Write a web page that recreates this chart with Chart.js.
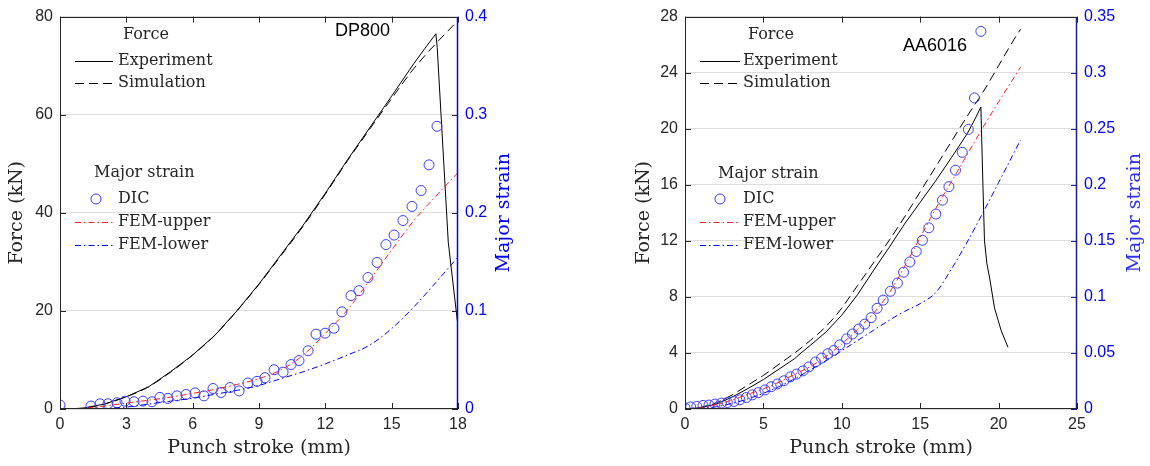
<!DOCTYPE html>
<html><head><meta charset="utf-8">
<script src="https://cdn.jsdelivr.net/npm/chart.js@4.4.0/dist/chart.umd.min.js"></script>
<style>
html,body{margin:0;padding:0;background:#fff;}
#wrap{position:relative;width:1150px;height:466px;overflow:hidden;}
#c1{position:absolute;left:0;top:0;}
#c2{position:absolute;left:620px;top:0;}
</style></head><body>
<div id="wrap">
<canvas id="c1" width="520" height="466"></canvas>
<canvas id="c2" width="530" height="466"></canvas>
</div>
<script>
// ---------------- DP800 (left) ----------------
const dpExpStroke = [0,1,2,3,4,5,6,7,8,9,10,11,12,13,14,15,16,16.5,17,17.06,17.56,17.97];
const dpExpForce  = [0,0.15,1.0,2.5,4.5,7.6,11,15,20,25.5,31.5,37.5,44,50.8,57.3,63.8,70.4,73.5,76.5,73.7,34,18];
const dpSimStroke = [0,1,2,3,4,5,6,7,8,9,10,11,12,13,14,15,16,17,18];
const dpSimForce  = [0,0.15,1.0,2.5,4.5,7.5,11,15,20,25.4,31.3,37.3,43.8,50.6,57,63.3,69.4,74.5,79.2];
const dpDicStroke = [0,1.40,1.81,2.17,2.58,2.94,3.35,3.75,4.16,4.52,4.88,5.29,5.70,6.11,6.51,6.92,7.28,7.69,8.10,8.50,8.91,9.27,9.68,10.09,10.45,10.81,11.22,11.58,11.99,12.39,12.75,13.16,13.52,13.93,14.34,14.74,15.11,15.51,15.92,16.33,16.69,17.05];
const dpDicStrain = [0.004,0.003,0.0053,0.0053,0.0063,0.008,0.0074,0.008,0.0074,0.0118,0.0108,0.0134,0.0148,0.0164,0.0134,0.0209,0.0168,0.0219,0.0184,0.0265,0.0282,0.0319,0.040,0.0376,0.0453,0.0494,0.0594,0.0763,0.0773,0.0823,0.099,0.1156,0.1206,0.134,0.1494,0.1676,0.1773,0.1921,0.2065,0.2227,0.2489,0.2882];
const dpFemStroke = [0,1,2,3,4,5,6,7,8,9,10,11,12,13,14,15,16,17,18];
const dpFemUpper  = [0,0.0005,0.003,0.006,0.009,0.012,0.016,0.02,0.025,0.031,0.04,0.055,0.077,0.101,0.131,0.162,0.192,0.217,0.241];
const dpFemLower  = [0,0,0.0005,0.002,0.005,0.008,0.011,0.015,0.019,0.024,0.031,0.038,0.046,0.055,0.065,0.082,0.104,0.129,0.155];
const dpXTicks  = [0,3,6,9,12,15,18];
const dpYTicks  = [0,20,40,60,80];
const dpY1Ticks = [0,0.1,0.2,0.3,0.4];

// ---------------- AA6016 (right) ----------------
const aaExpStroke = [0,1,2,3,4,5,6,7,7.4,8,9,10,11,12,13,14,15,16,17,18,18.5,18.87,19.0,19.1,19.25,19.43,19.74,20.17,20.6];
const aaExpForce  = [0,0.1,0.35,0.85,1.45,2.1,2.85,3.6,4.0,4.55,5.5,6.7,8.15,9.85,11.5,13.2,14.75,16.3,17.95,19.65,20.7,21.55,16.0,12.0,10.4,9.34,7.2,5.58,4.4];
const aaSimStroke = [0,1,2,3,4,5,6,7,8,9,10,10.5,11,12,13,14,15,16,17,18,19,20,21,21.4];
const aaSimForce  = [0,0.12,0.45,1.0,1.7,2.4,3.2,4.0,4.9,5.9,7.2,8.0,8.8,10.4,12.0,13.7,15.5,17.3,19.1,20.9,22.6,24.5,26.4,27.1];
const aaDicStroke = [0,0.36,0.75,1.15,1.53,1.91,2.32,2.7,3.12,3.5,3.91,4.29,4.67,5.1,5.5,5.89,6.31,6.73,7.11,7.52,7.9,8.32,8.71,9.11,9.49,9.87,10.3,10.68,11.08,11.46,11.87,12.25,12.64,13.1,13.55,13.94,14.34,14.75,15.14,15.55,16.0,16.42,16.83,17.25,17.68,18.07,18.46,18.87];
const aaDicStrain = [0.001,0.0018,0.0023,0.0032,0.0035,0.0044,0.0053,0.0058,0.0067,0.0082,0.0102,0.0126,0.0146,0.017,0.0199,0.0223,0.0252,0.0287,0.0311,0.034,0.0375,0.0419,0.0454,0.0493,0.0522,0.0572,0.0625,0.0669,0.0713,0.0757,0.0815,0.0898,0.0971,0.105,0.1123,0.122,0.1311,0.1405,0.1505,0.1616,0.1739,0.1863,0.1983,0.213,0.2289,0.2494,0.2775,0.3368];
const aaFemStroke = [0,1,2,3,4,5,6,7,8,9,10,11,12,13,14,15,16,17,18,19,20,21,21.4];
const aaFemUpper  = [0,0.001,0.004,0.008,0.013,0.018,0.024,0.031,0.038,0.047,0.058,0.071,0.085,0.103,0.127,0.153,0.179,0.203,0.227,0.251,0.274,0.296,0.305];
const aaFemLower  = [0,0.0005,0.002,0.005,0.009,0.014,0.02,0.027,0.035,0.043,0.052,0.061,0.07,0.079,0.087,0.094,0.104,0.125,0.149,0.175,0.202,0.229,0.24];
const aaXTicks  = [0,5,10,15,20,25];
const aaYTicks  = [0,4,8,12,16,20,24,28];
const aaY1Ticks = [0,0.05,0.1,0.15,0.2,0.25,0.3,0.35];

// ---------------- helpers ----------------
const zip = (xs, ys) => xs.map((x, i) => ({x, y: ys[i]}));
const SERIF = '"DejaVu Serif", serif';
const SANS = '"Liberation Sans", Arial, sans-serif';
const RED = 'rgb(255,30,30)';
const BLUE = '#0000ff';
const DICBLUE = 'rgb(60,60,255)';
const DASH = [9,5];
const DASHDOT = [6,3,1.5,3];
const fmt = v => String(+Number(v).toFixed(3));

const chromePlugin = {
  id: 'chrome',
  afterDraw(chart, args, o) {
    const {ctx, chartArea: a, scales} = chart;
    ctx.save();
    ctx.lineWidth = 1;
    const L = 6;
    const seg = (x1, y1, x2, y2) => { ctx.beginPath(); ctx.moveTo(x1, y1); ctx.lineTo(x2, y2); ctx.stroke(); };
    ctx.strokeStyle = '#262626';
    scales.x.ticks.forEach(t => {
      const p = Math.round(scales.x.getPixelForValue(t.value)) + 0.5;
      seg(p, a.bottom, p, a.bottom - L);
      seg(p, a.top, p, a.top + L);
    });
    scales.y.ticks.forEach(t => {
      const p = Math.round(scales.y.getPixelForValue(t.value)) + 0.5;
      seg(a.left, p, a.left + L, p);
    });
    ctx.strokeStyle = o.rightTickColor;
    scales.y1.ticks.forEach(t => {
      const p = Math.round(scales.y1.getPixelForValue(t.value)) + 0.5;
      seg(a.right, p, a.right - L, p);
    });
    // spines
    const l = Math.round(a.left) + 0.5, r = Math.round(a.right) - 0.5;
    const tp = Math.round(a.top) + 0.5, b = Math.round(a.bottom) - 0.5;
    ctx.strokeStyle = '#262626';
    seg(l, tp, r, tp);
    seg(l, b, r, b);
    seg(l, tp, l, b + 0.5);
    ctx.strokeStyle = o.rightSpineColor;
    ctx.lineWidth = 1.5;
    seg(r, tp - 0.5, r, b + 0.5);
    ctx.lineWidth = 1;

    // right axis title (reads bottom-to-top)
    ctx.save();
    ctx.fillStyle = o.rightTitleColor;
    ctx.font = '19px ' + SERIF;
    ctx.textAlign = 'center';
    ctx.textBaseline = 'middle';
    ctx.translate(o.rightTitleX, (a.top + a.bottom) / 2);
    ctx.rotate(-Math.PI / 2);
    ctx.fillText('Major strain', 0, 0);
    ctx.restore();

    // material label
    ctx.fillStyle = '#000';
    ctx.font = '18px ' + SANS;
    ctx.textAlign = 'left';
    ctx.textBaseline = 'middle';
    ctx.fillText(o.label, o.labelX, o.labelY);

    // legend
    const g = o.legend;
    ctx.font = '16px ' + SERIF;
    ctx.fillStyle = '#262626';
    ctx.fillText('Force', g.forceX, g.rows[0]);
    ctx.fillText('Major strain', g.strainX, g.rows[3]);
    const items = [
      {row: 1, text: 'Experiment', color: '#000', dash: []},
      {row: 2, text: 'Simulation', color: '#000', dash: DASH},
      {row: 5, text: 'FEM-upper', color: RED, dash: DASHDOT},
      {row: 6, text: 'FEM-lower', color: BLUE, dash: DASHDOT}
    ];
    items.forEach(it => {
      const y = Math.round(g.rows[it.row]) + 0.5;
      ctx.strokeStyle = it.color;
      ctx.setLineDash(it.dash);
      seg(g.lineX1, y, g.lineX2, y);
      ctx.setLineDash([]);
      ctx.fillText(it.text, g.textX, g.rows[it.row]);
    });
    ctx.strokeStyle = DICBLUE;
    ctx.beginPath();
    ctx.arc(g.dicX, g.rows[4], 5, 0, Math.PI * 2);
    ctx.stroke();
    ctx.fillText('DIC', g.textX, g.rows[4]);
    ctx.restore();
  }
};

function makeChart(id, cfg) {
  const lineDs = (label, data, color, dash, axis, smooth) => ({
    label, data, borderColor: color, borderWidth: 1, borderDash: dash,
    showLine: true, pointRadius: 0, pointHoverRadius: 0, yAxisID: axis,
    cubicInterpolationMode: smooth ? 'monotone' : 'default', tension: 0, fill: false
  });
  const tickSetter = arr => (scale) => { scale.ticks = arr.map(v => ({value: v})); };
  return new Chart(document.getElementById(id), {
    type: 'scatter',
    data: {
      datasets: [
        lineDs('FEM-lower', cfg.femLower, BLUE, DASHDOT, 'y1', true),
        lineDs('FEM-upper', cfg.femUpper, RED, DASHDOT, 'y1', true),
        {label: 'DIC', data: cfg.dic, yAxisID: 'y1', showLine: false, pointStyle: 'circle',
         pointRadius: 5, pointBorderWidth: 1, borderColor: DICBLUE, backgroundColor: 'rgba(0,0,0,0)',
         pointBackgroundColor: 'rgba(0,0,0,0)', pointBorderColor: DICBLUE},
        lineDs('Simulation', cfg.sim, '#000', DASH, 'y', true),
        lineDs('Experiment', cfg.exp, '#000', [], 'y', false)
      ]
    },
    options: {
      responsive: false, animation: false, devicePixelRatio: 1,
      layout: {padding: {top: 12, left: 0, right: 0, bottom: 0}},
      plugins: {legend: {display: false}, tooltip: {enabled: false}, chrome: cfg.chrome},
      scales: {
        x: {
          type: 'linear', min: cfg.xTicks[0], max: cfg.xTicks[cfg.xTicks.length - 1],
          afterBuildTicks: tickSetter(cfg.xTicks),
          afterFit: s => { s.height = 57; },
          grid: {display: false, drawTicks: false},
          border: {display: false},
          ticks: {font: {family: SANS, size: 16}, color: '#262626', padding: 6, maxRotation: 0, autoSkip: false, callback: fmt},
          title: {display: true, text: 'Punch stroke (mm)', font: {family: SERIF, size: 19}, color: '#262626', padding: {top: 0, bottom: 7}}
        },
        y: {
          type: 'linear', position: 'left', min: cfg.yTicks[0], max: cfg.yTicks[cfg.yTicks.length - 1],
          afterBuildTicks: tickSetter(cfg.yTicks),
          afterFit: s => { s.width = cfg.yWidth; },
          grid: {color: '#dedede', lineWidth: 1, drawTicks: false},
          border: {display: false},
          ticks: {font: {family: SANS, size: 16}, color: '#262626', padding: 7, autoSkip: false, callback: fmt},
          title: {display: true, text: 'Force (kN)', font: {family: SERIF, size: 19}, color: '#262626', padding: {top: cfg.yTitlePad, bottom: 0}}
        },
        y1: {
          type: 'linear', position: 'right', min: cfg.y1Ticks[0], max: cfg.y1Ticks[cfg.y1Ticks.length - 1],
          afterBuildTicks: tickSetter(cfg.y1Ticks),
          afterFit: s => { s.width = cfg.y1Width; },
          grid: {display: false, drawTicks: false},
          border: {display: false},
          ticks: {font: {family: SANS, size: 16}, color: '#0000ff', padding: 7, autoSkip: false, callback: fmt},
          title: {display: false}
        }
      }
    },
    plugins: [chromePlugin]
  });
}

makeChart('c1', {
  exp: zip(dpExpStroke, dpExpForce), sim: zip(dpSimStroke, dpSimForce),
  dic: zip(dpDicStroke, dpDicStrain),
  femUpper: zip(dpFemStroke, dpFemUpper), femLower: zip(dpFemStroke, dpFemLower),
  xTicks: dpXTicks, yTicks: dpYTicks, y1Ticks: dpY1Ticks,
  yWidth: 60, y1Width: 62, yTitlePad: 6,
  chrome: {
    rightTickColor: '#262626', rightSpineColor: '#0000ff', rightTitleColor: '#0000ff', rightTitleX: 504,
    label: 'DP800', labelX: 335, labelY: 31,
    legend: {forceX: 123, strainX: 94, lineX1: 75, lineX2: 113, textX: 118, dicX: 96,
             rows: [35, 61, 83, 173, 199, 222, 245]}
  }
});

makeChart('c2', {
  exp: zip(aaExpStroke, aaExpForce), sim: zip(aaSimStroke, aaSimForce),
  dic: zip(aaDicStroke, aaDicStrain),
  femUpper: zip(aaFemStroke, aaFemUpper), femLower: zip(aaFemStroke, aaFemLower),
  xTicks: aaXTicks, yTicks: aaYTicks, y1Ticks: aaY1Ticks,
  yWidth: 65, y1Width: 73, yTitlePad: 13,
  chrome: {
    rightTickColor: '#1c1c9c', rightSpineColor: '#1c1c9c', rightTitleColor: '#3030f0', rightTitleX: 515,
    label: 'AA6016', labelX: 283, labelY: 46,
    legend: {forceX: 128, strainX: 98, lineX1: 80, lineX2: 120, textX: 123, dicX: 100,
             rows: [35, 61, 83, 174, 199, 222, 245]}
  }
});
</script>
</body></html>
